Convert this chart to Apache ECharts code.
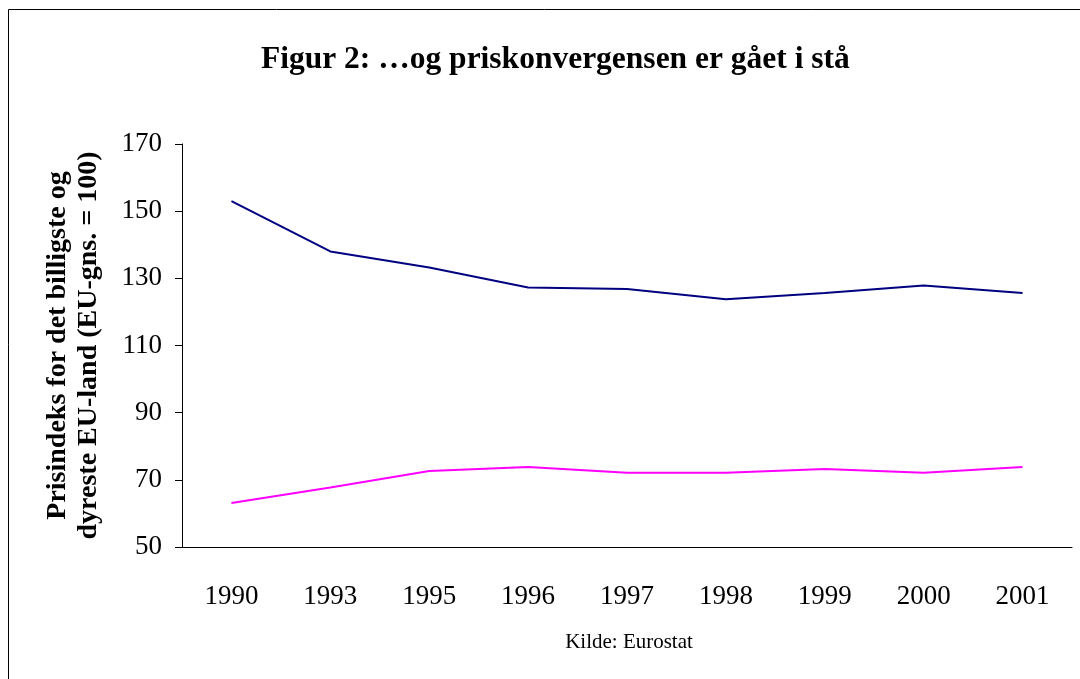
<!DOCTYPE html>
<html lang="da">
<head>
	<meta charset="UTF-8">
	<title>Figur 2</title>
	<script src="https://cdn.jsdelivr.net/npm/echarts@6/dist/echarts.min.js"></script>
	<style>
		html, body { margin: 0; padding: 0; background: #fff; }
	</style>
</head>
<body>
	<div id="chart" style="width: 1080px;height: 679px;"></div>

	<script type="text/javascript">
		// data
		var years = ['1990', '1993', '1995', '1996', '1997', '1998', '1999', '2000', '2001'];
		var dyreste = [153, 138, 133.2, 127.3, 126.8, 123.8, 125.6, 127.9, 125.6];   // most expensive EU country
		var billigste = [63.1, 67.7, 72.6, 73.8, 72.1, 72.1, 73.2, 72.1, 73.8];      // cheapest EU country
		var yMin = 50, yMax = 170, yStep = 20;

		var serif = '"Liberation Serif", "Times New Roman", serif';

		var myChart = echarts.init(document.getElementById('chart'));
		myChart.setOption({
			animation: false,
			title: {
				text: 'Figur 2: …og priskonvergensen er gået i stå',
				left: 256,
				top: 39,
				textStyle: { fontFamily: serif, fontSize: 31.5, fontWeight: 'bold', color: '#000' }
			},
			graphic: [
				{
					type: 'rect',
					shape: { x: 8.5, y: 9.5, width: 1200, height: 800 },
					style: { fill: 'none', stroke: '#000', lineWidth: 1 },
					silent: true
				},
				{
					type: 'text',
					x: 629,
					y: 642,
					style: {
						text: 'Kilde: Eurostat',
						font: '21px ' + serif,
						fill: '#000',
						textAlign: 'center',
						textVerticalAlign: 'middle'
					}
				}
			],
			grid: {
				left: 182,
				right: 8,
				top: 144,
				bottom: 132
			},
			xAxis: {
				type: 'category',
				data: years,
				boundaryGap: true,
				axisLine: { lineStyle: { color: '#000', width: 1 } },
				axisTick: { length: 11, lineStyle: { color: '#000' } },
				axisLabel: { margin: 36, fontFamily: serif, fontSize: 27, color: '#000' }
			},
			yAxis: {
				type: 'value',
				min: yMin,
				max: yMax,
				interval: yStep,
				name: 'Prisindeks for det billigste og\ndyreste EU-land (EU-gns. = 100)',
				nameLocation: 'middle',
				nameGap: 78,
				nameTextStyle: { fontFamily: serif, fontSize: 28, fontWeight: 'bold', color: '#000', lineHeight: 31 },
				splitLine: { show: false },
				axisLine: { show: true, lineStyle: { color: '#000', width: 1 } },
				axisTick: { show: true, length: 7, lineStyle: { color: '#000' } },
				axisLabel: { margin: 20, fontFamily: serif, fontSize: 27, color: '#000' }
			},
			series: [
				{
					name: 'dyreste',
					type: 'line',
					data: dyreste,
					symbol: 'none',
					lineStyle: { color: '#000080', width: 2 }
				},
				{
					name: 'billigste',
					type: 'line',
					data: billigste,
					symbol: 'none',
					lineStyle: { color: '#ff00ff', width: 2 }
				}
			]
		});
	</script>
</body>
</html>
